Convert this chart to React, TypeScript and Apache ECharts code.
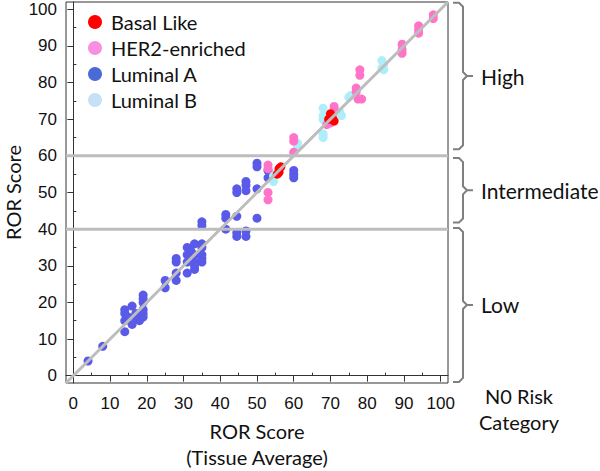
import React, { useEffect, useRef } from "react";
import * as echarts from "echarts";

const basalLike: number[][] = [
  [55.5, 55], [56, 56.5], [56.5, 57], [56, 55.5],
  [70, 71.5], [70.5, 70.5], [71, 69.5], [69.5, 70],
];
const her2Enriched: number[][] = [
  [53, 57.5], [53, 56.5], [53, 50], [53, 48],
  [60, 65], [60, 64], [60, 61],
  [71, 73.5], [71, 72.5], [70, 69], [69, 68.5],
  [77, 78.5], [77, 77.5], [77.5, 75.5], [78.5, 75.5], [78, 83.5], [78, 82],
  [89.5, 90.5], [89.5, 89], [89.5, 88],
  [94, 95.5], [94, 94.5], [94, 93.5],
  [98, 98.5], [98, 97.5],
];
const luminalA: number[][] = [
  [4, 4], [8, 8],
  [14, 18], [14, 17], [14, 15], [14, 12], [15, 16], [16, 19], [16, 14], [17, 17], [17, 16],
  [18, 16], [18, 15], [19, 22], [19, 21], [19, 20], [19, 18], [19, 17], [19, 16],
  [25, 26], [25, 24], [28, 32], [28, 31], [28, 28], [28, 26],
  [31, 35], [31, 33], [31, 31], [31, 28], [32, 34], [33, 36], [33, 33], [33, 31], [33, 30], [33, 29],
  [35, 36], [35, 35], [35, 33], [35, 32], [35, 31], [35, 42], [35, 41],
  [41.5, 44], [41.5, 43], [41.5, 40],
  [44.5, 51], [44.5, 50], [44.5, 43.5], [44.5, 39], [44.5, 38],
  [47, 53], [47, 52], [47, 50.5], [47, 39.5], [47, 38],
  [50, 58], [50, 57], [50, 51], [50, 43],
  [53, 56], [53, 54], [60, 56], [60, 55], [60, 54],
];
const luminalB: number[][] = [
  [54.5, 54.5], [54.5, 53], [61, 63.5], [61, 62.5],
  [68, 73], [68, 71], [68, 70], [68, 66], [68, 65],
  [72.5, 72], [73, 71], [75, 76], [75.5, 76.5],
  [84, 86], [84.5, 85], [84, 84], [84.5, 83.5],
];

const axisMin = -2;
const axisMax = 102;
const majorTicks = [0, 10, 20, 30, 40, 50, 60, 70, 80, 90, 100];
const minorTicks = [5, 15, 25, 35, 45, 55, 65, 75, 85, 95];
const thresholds = [40, 60];
const riskBands = [
  { label: "High", from: 61.8, to: 101.8 },
  { label: "Intermediate", from: 41.8, to: 59.4 },
  { label: "Low", from: -1.7, to: 40.3 },
];

const titleFont = "Lato, 'Open Sans', sans-serif";
const tickFont = "'Liberation Sans', Arial, sans-serif";

export default function App() {
  const ref = useRef<HTMLDivElement>(null);
  useEffect(() => {
    if (!ref.current) return;
    const chart = echarts.init(ref.current, null, { renderer: "svg" });
    const axisCommon = (isX: boolean) => [
      {
        type: "value",
        min: axisMin,
        max: axisMax,
        axisLine: { show: true, lineStyle: { color: "#333", width: 1 } },
        axisTick: { show: true, customValues: majorTicks, length: 6, lineStyle: { color: "#333" } },
        axisLabel: {
          customValues: majorTicks,
          fontSize: 17,
          color: "#111",
          fontFamily: tickFont,
          margin: isX ? 12 : 9,
        },
        splitLine: { show: false },
        name: isX ? "ROR Score\n(Tissue Average)" : "",
        nameLocation: "middle",
        nameGap: 35,
        nameTextStyle: {
          fontSize: 20,
          fontFamily: titleFont,
          color: "#111",
          lineHeight: 26,
          verticalAlign: "top",
        },
      },
      {
        type: "value",
        min: axisMin,
        max: axisMax,
        axisLine: { show: false },
        axisTick: { show: true, customValues: minorTicks, length: 3, lineStyle: { color: "#333" } },
        axisLabel: { show: false },
        splitLine: { show: false },
      },
    ];
    const scatter = (name: string, data: number[][], color: string) => ({
      name,
      type: "scatter",
      data,
      symbolSize: 9,
      itemStyle: { color, opacity: 1 },
    });
    const refLine = (data: number[][]) => ({
      type: "line",
      data,
      symbol: "none",
      silent: true,
      lineStyle: { color: "#bdbdbd", width: 3 },
      z: 5,
    });
    const option: any = {
      animation: false,
      grid: {
        left: 66,
        top: 2,
        width: 382,
        height: 381,
        show: true,
        borderColor: "#333",
        borderWidth: 1,
        containLabel: false,
        outerBoundsMode: "none",
      },
      xAxis: axisCommon(true),
      yAxis: axisCommon(false),
      legend: {
        orient: "vertical",
        left: 88,
        top: 12,
        padding: 0,
        itemWidth: 14,
        itemHeight: 14,
        itemGap: 6,
        icon: "circle",
        textStyle: { fontSize: 20, fontFamily: titleFont, color: "#111", lineHeight: 20, padding: [0, 0, 0, 4] },
        data: [
          { name: "Basal Like", itemStyle: { color: "#ff0000" } },
          { name: "HER2-enriched", itemStyle: { color: "#f98fe2" } },
          { name: "Luminal A", itemStyle: { color: "#4a6bd6" } },
          { name: "Luminal B", itemStyle: { color: "#c6e0f8" } },
        ],
      },
      series: [
        scatter("Luminal A", luminalA, "#5a5ae8"),
        scatter("Luminal B", luminalB, "#aeeefa"),
        scatter("HER2-enriched", her2Enriched, "#ff74c8"),
        scatter("Basal Like", basalLike, "#ff0000"),
        refLine([[axisMin, axisMin], [axisMax, axisMax]]),
        ...thresholds.map((t) => refLine([[axisMin, t], [axisMax, t]])),
      ],
    };
    chart.setOption(option);

    const yPix = (v: number) => chart.convertToPixel({ yAxisIndex: 0 }, v) as number;
    const xRight = chart.convertToPixel({ xAxisIndex: 0 }, axisMax) as number;
    const x0 = xRight + 5;
    const x1 = x0 + 10;
    const x2 = x1 + 10;
    const r = 4;
    const graphics: any[] = [];
    riskBands.forEach((b) => {
      const t = yPix(b.to);
      const bt = yPix(b.from);
      const m = (t + bt) / 2;
      graphics.push({
        type: "polyline",
        shape: {
          points: [
            [x0, t], [x1 - r, t], [x1, t + r], [x1, m - r], [x1 + r, m], [x2, m],
            [x1 + r, m], [x1, m + r], [x1, bt - r], [x1 - r, bt], [x0, bt],
          ],
        },
        style: { stroke: "#7f7f7f", lineWidth: 2, fill: null },
      });
      graphics.push({
        type: "text",
        x: x2 + 8,
        y: m,
        style: {
          text: b.label,
          fontSize: 21,
          fontFamily: titleFont,
          fill: "#111",
          verticalAlign: "middle",
          align: "left",
        },
      });
    });
    const yBottom = yPix(axisMin);
    const yTop = yPix(axisMax);
    graphics.push({
      type: "text",
      x: 13,
      y: (yTop + yBottom) / 2,
      rotation: Math.PI / 2,
      style: {
        text: "ROR Score",
        fontSize: 20,
        fontFamily: titleFont,
        fill: "#111",
        align: "center",
        verticalAlign: "middle",
      },
    });
    graphics.push({
      type: "text",
      x: x1 + 56,
      y: yBottom + 26,
      style: {
        text: "N0 Risk\nCategory",
        fontSize: 20,
        fontFamily: titleFont,
        fill: "#111",
        lineHeight: 26,
        align: "center",
        verticalAlign: "middle",
      },
    });
    chart.setOption({ graphic: graphics });
    return () => chart.dispose();
  }, []);
  return (
    <div
      ref={ref}
      style={{ position: "fixed", left: 0, top: 0, width: 600, height: 471, background: "#fff" }}
    />
  );
}
